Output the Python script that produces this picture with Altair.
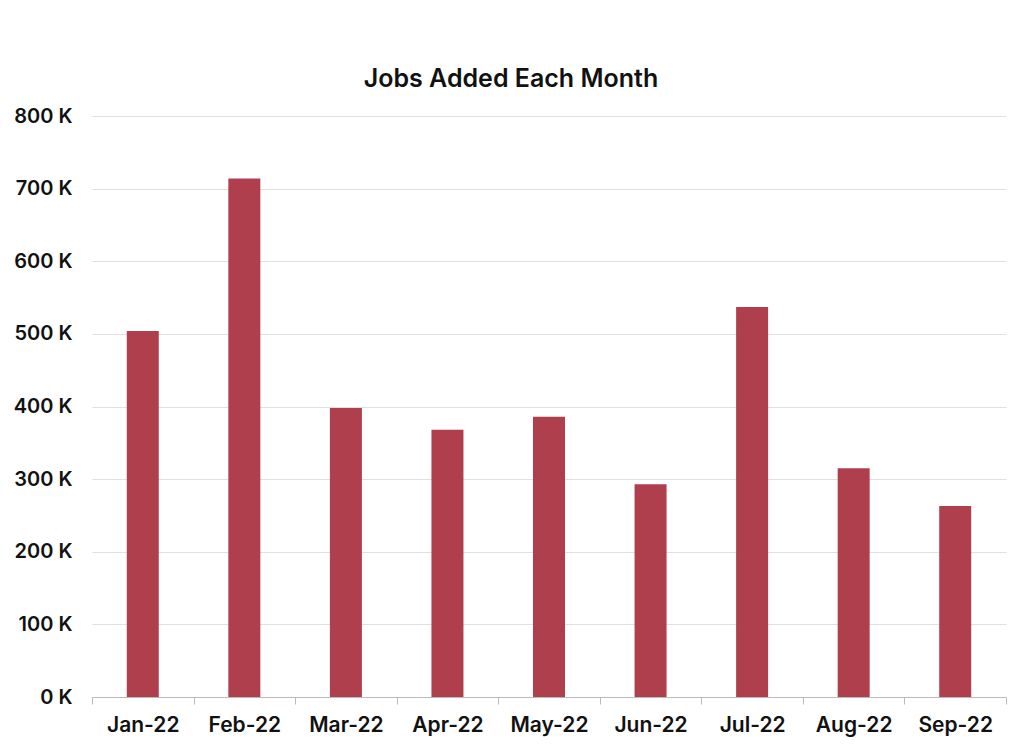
import altair as alt
import pandas as pd

months = ["Jan-22", "Feb-22", "Mar-22", "Apr-22", "May-22", "Jun-22", "Jul-22", "Aug-22", "Sep-22"]
jobs_k = [504, 714, 398, 368, 386, 293, 537, 315, 263]
y_ticks = [0, 100, 200, 300, 400, 500, 600, 700, 800]

df = pd.DataFrame({"month": months, "jobs": jobs_k})

FONT = "Inter"

chart = alt.Chart(df).mark_bar(color="#AF3F4D", size=32).encode(
    x=alt.X("month:N", sort=months, title=None,
            scale=alt.Scale(paddingInner=0, paddingOuter=0),
            axis=alt.Axis(labelAngle=0, labelFont=FONT, labelFontSize=21, labelFontWeight=600,
                          labelColor="#111", labelPadding=10, tickBand="extent",
                          tickColor="#bbb", tickSize=7, domainColor="#bbb", grid=False)),
    y=alt.Y("jobs:Q", title=None,
            scale=alt.Scale(domain=[0, 800], nice=False),
            axis=alt.Axis(values=y_ticks, labelExpr="datum.value + ' K'", labelFont=FONT,
                          labelFontSize=20, labelFontWeight=600, labelColor="#111",
                          labelPadding=20, ticks=False, domain=False,
                          gridColor="#e0e0e0", gridWidth=1)),
).properties(
    width=914, height=581,
    title=alt.TitleParams("Jobs Added Each Month", font=FONT, fontSize=25, fontWeight=600,
                          color="#111", anchor="middle", dx=-38, offset=14),
    autosize=alt.AutoSizeParams(type="none"),
    padding={"left": 84, "top": 108, "right": 12, "bottom": 40},
).configure_view(stroke=None)

chart.save("out.html", embed_options={"renderer": "svg", "actions": False})
